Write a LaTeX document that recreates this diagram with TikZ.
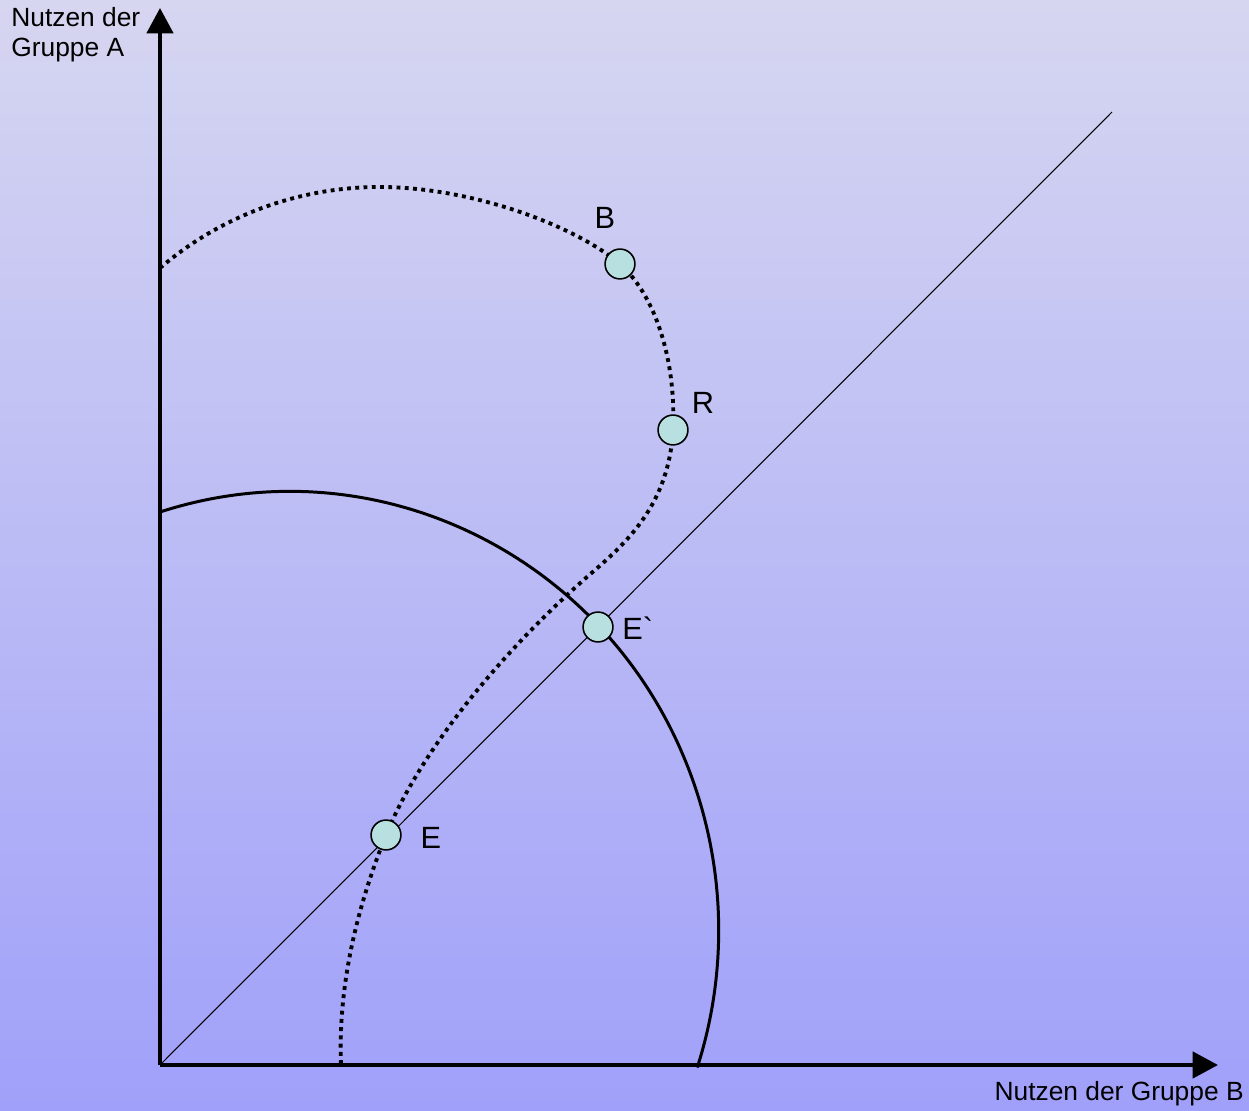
\documentclass[tikz,border=0pt]{standalone}
\usepackage{fontspec}
\setmainfont{Liberation Sans}
\newfontfamily\rawsans{Liberation Sans}[Ligatures=TeXOff]
\usetikzlibrary{arrows.meta}
\definecolor{bgtop}{RGB}{214,214,241}
\definecolor{bgbot}{RGB}{160,160,250}
\definecolor{ptfill}{RGB}{184,224,224}
\tikzset{
  axis/.style={line width=2.2pt,-{Triangle[length=14.5pt,width=15pt]}},
  frontier/.style={line width=1.7pt},
  dotfront/.style={line width=2.2pt,dash pattern=on 2.2pt off 2.5pt},
  diag/.style={line width=0.6pt},
  pt/.style={circle,draw=black,line width=0.9pt,fill=ptfill,minimum size=17pt,inner sep=0pt},
  lbl/.style={font=\fontsize{17.5}{20}\selectfont,inner sep=0pt},
  axlbl/.style={font=\fontsize{15}{17.2}\selectfont,inner sep=0pt,align=left}
}
\begin{document}
\begin{tikzpicture}[x=0.02cm,y=-0.02cm]
\shade[top color=bgtop,bottom color=bgbot] (0,0) rectangle (1249,1111);
\useasboundingbox (0,0) rectangle (1249,1111);
% coordinates
\coordinate (O) at (160,1065);
\coordinate (Ytip) at (160,8);
\coordinate (Xtip) at (1218,1065);
\coordinate (D) at (1112,112);
% diagonal
\draw[diag] (O) -- (D);
% solid frontier (ellipse arc)
\draw[frontier] (160,512) arc[start angle=-107.6,end angle=18.2,x radius=429,y radius=439];
% dotted frontier
\coordinate (d0) at (160,268);
\coordinate (d1) at (385,187);
\coordinate (pB) at (620,264);
\coordinate (pR) at (673,430);
\coordinate (d4) at (595,570);
\coordinate (pE) at (386,835);
\coordinate (d6) at (341,1065);
\draw[dotfront] (d0) .. controls (235,204) and (320,186) .. (d1)
  .. controls (480,189) and (578,228) .. (pB)
  .. controls (660,300) and (676,370) .. (pR)
  .. controls (669,500) and (632,538) .. (d4)
  .. controls (500,652) and (420,752) .. (pE)
  .. controls (355,912) and (338,990) .. (d6);
% axes
\draw[axis] (O) -- (Ytip);
\draw[axis] (O) -- (Xtip);
% points
\node[pt] (B) at (pB) {};
\node[pt] (R) at (pR) {};
\node[pt] (Ep) at (598,627) {};
\node[pt] (E) at (pE) {};
% labels
\node[lbl] at (605,218) {B};
\node[lbl] at (703,403) {R};
\node[lbl,anchor=west] at (622,628) {{\rawsans E`}};
\node[lbl] at (431,838) {E};
\node[axlbl,anchor=north west] at (11,7) {Nutzen der\\Gruppe A};
\node[axlbl,anchor=base east] at (1244,1100) {Nutzen der Gruppe B};
\end{tikzpicture}
\end{document}
